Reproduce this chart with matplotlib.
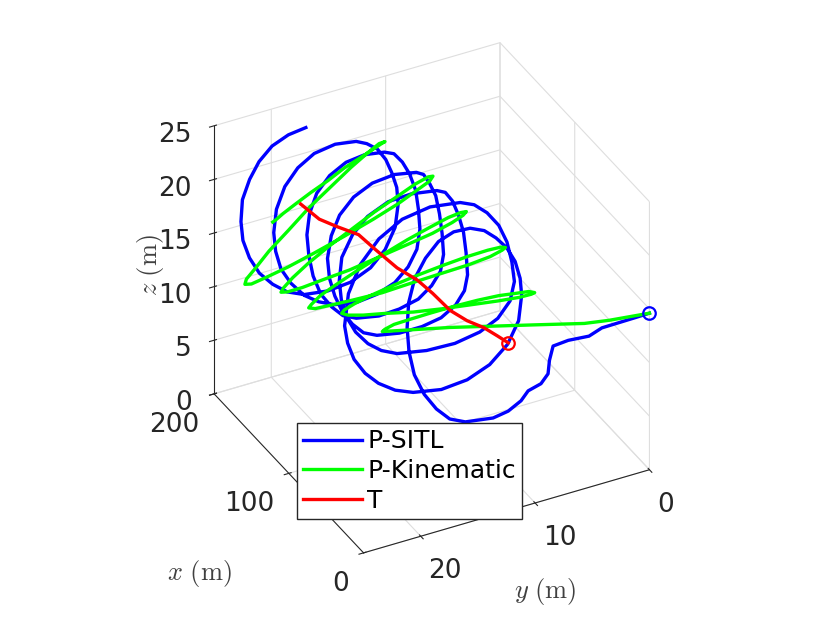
import matplotlib
matplotlib.use('Agg')
import matplotlib.pyplot as plt

plt.rcParams['mathtext.fontset'] = 'cm'
plt.rcParams['font.family'] = 'DejaVu Sans'
plt.rcParams['grid.color'] = '#dedede'
plt.rcParams['grid.linewidth'] = 0.8

# target T
t_x = [0.7, 10.6, 22.7, 34.3, 49.3, 71.2, 88.9, 106.7, 130.5, 150.5, 165.2, 177.1, 197.3]
t_y = [12.3, 12.6, 13.0, 13.7, 14.2, 14.3, 14.5, 15.1, 15.4, 15.6, 16.6, 17.3, 17.6]
t_z = [15.6] * 13

# P-SITL
sitl_x = [0.0, 1.8, 3.7, 5.5, 7.4, 9.2, 11.1, 12.9, 14.8, 16.6, 18.5, 20.3, 22.2, 24.0, 26,
          27, 28, 29, 30, 31, 32, 33, 34, 35, 36, 37, 38, 39, 40, 41, 42, 43, 44,
          45, 46, 47, 48, 49, 50, 51, 52, 53, 54, 55, 56, 57, 58, 59, 60, 61, 62,
          63.2, 64.3, 65.5, 66.7, 67.8, 69.0, 70.2, 71.3, 72.5, 73.7, 74.8, 76.0,
          77.2, 78.3, 79.5, 80.7, 81.8, 83.0, 84.2, 85.3, 86.5, 87.7, 88.8, 90.0,
          91.1, 92.2, 93.2, 94.3, 95.4, 96.5, 97.6, 98.7, 99.8, 100.8, 101.9, 103.0,
          104.1, 105.2, 106.2, 107.3, 108.4, 109.5, 110.6, 111.7, 112.8, 113.8, 114.9, 116.0,
          117.1, 118.2, 119.2, 120.3, 121.4, 122.5, 123.6, 124.7, 125.8, 126.8, 127.9, 129.0,
          130.1, 131.2, 132.2, 133.3, 134.4, 135.5, 136.6, 137.7, 138.8, 139.8, 140.9, 142.0,
          143, 144, 145, 146, 147, 148, 149, 150, 151, 152, 153, 154,
          155, 156, 157, 158, 159, 160, 161, 162, 163, 164, 165, 166,
          167.1, 168.2, 169.2, 170.3, 171.4, 172.5, 173.6, 174.7, 175.8, 176.8, 177.9, 179.0,
          180.1, 181.2, 182.2, 183.3, 184.4, 185.5, 186.6, 187.7, 188.8, 189.8, 190.9, 192.0]
sitl_y = [0.0, 1.1, 2.4, 3.8, 4.8, 6.5, 7.7, 7.9, 7.9, 8.4, 9.4, 9.9, 10.9, 12.1, 14.4, 15.7,
          16.8, 17.8, 18.6, 19.0, 19.1, 18.9, 18.3, 17.3, 16.1, 14.7, 13.2, 11.9, 10.8, 9.8,
          9.0, 8.5, 8.3, 8.5, 9.4, 10.9, 12.8, 15.0, 17.4, 18.9, 20.3, 21.4, 22.3, 22.8, 23.0,
          22.6, 21.5, 19.8, 17.7, 15.2, 12.5, 11.2, 10.0, 8.9, 8.1, 7.6, 7.3, 7.6, 8.6, 10.1,
          12.2, 14.6, 17.1, 18.4, 19.5, 20.5, 21.2, 21.6, 21.7, 21.4, 20.4, 19.0, 17.1, 15.0,
          12.7, 11.9, 11.2, 10.6, 10.1, 9.8, 9.6, 9.8, 10.5, 11.7, 13.3, 15.2, 17.1, 18.2,
          19.1, 19.9, 20.5, 20.9, 21.0, 20.6, 19.8, 18.5, 16.8, 14.8, 12.8, 12.1, 11.5, 10.9,
          10.5, 10.2, 10.0, 10.2, 10.9, 12.0, 13.6, 15.3, 17.2, 18.3, 19.2, 20.1, 20.7, 21.0,
          21.1, 20.8, 20.1, 18.9, 17.4, 15.7, 13.9, 13.0, 12.2, 11.5, 10.9, 10.6, 10.4, 10.6,
          11.3, 12.4, 13.9, 15.6, 17.5, 18.8, 20.0, 21.1, 21.9, 22.3, 22.4, 22.1, 21.3, 20.1,
          18.6, 16.7, 14.8, 13.8, 12.8, 12.0, 11.4, 10.9, 10.7, 10.9, 11.7, 12.9, 14.6, 16.5,
          18.5, 19.9, 21.1, 22.2, 23.0, 23.5, 23.6, 23.4, 22.7, 21.8, 20.6, 19.1, 17.5]
sitl_z = [14.6, 14.4, 14.2, 14.0, 13.4, 13.4, 13.1, 11.7, 10.3, 9.4, 8.9, 8.0, 7.2, 6.8, 7.0,
          7.6, 8.8, 10.4, 12.4, 14.6, 16.8, 19.0, 21.0, 22.5, 23.6, 24.0, 23.8, 23.1, 22.0,
          20.7, 19.1, 17.3, 15.6, 13.2, 11.2, 9.7, 8.8, 8.5, 8.9, 9.5, 10.5, 11.7, 13.2, 14.8,
          16.4, 19.2, 21.5, 23.3, 24.4, 24.7, 24.2, 23.5, 22.3, 20.7, 18.8, 16.7, 14.7, 12.9,
          11.5, 10.6, 10.1, 10.1, 10.5, 11.1, 12.0, 13.3, 14.8, 16.5, 18.2, 20.2, 21.9, 23.1,
          23.8, 23.8, 23.3, 22.8, 21.7, 20.1, 18.3, 16.2, 14.0, 12.5, 11.3, 10.4, 10.0, 9.9,
          10.2, 10.7, 11.7, 13.0, 14.6, 16.3, 18.1, 20.0, 21.6, 22.8, 23.5, 23.6, 23.1, 22.6,
          21.5, 20.1, 18.2, 16.2, 14.1, 12.5, 11.3, 10.3, 9.8, 9.6, 9.9, 10.4, 11.4, 12.8,
          14.6, 16.5, 18.4, 20.2, 21.8, 23.0, 23.7, 23.8, 23.4, 22.9, 21.8, 20.4, 18.6, 16.7,
          14.7, 12.8, 11.3, 10.1, 9.4, 9.1, 9.4, 10.0, 10.9, 12.3, 13.8, 15.5, 17.2, 19.2,
          21.0, 22.3, 23.1, 23.3, 22.9, 22.3, 21.4, 20.1, 18.6, 17.0, 15.3, 13.1, 11.2, 9.8,
          8.9, 8.6, 8.8, 9.4, 10.4, 11.7, 13.3, 15.0, 16.7, 18.6, 20.2, 21.5, 22.5, 23.0, 23.1]

# P-Kinematic
kin_x = [0.0, 4.5, 7.5, 13.0, 22.0, 30.0,
         32.6, 35.8, 39.4, 42.9, 46.0, 48.4, 50.0, 50.4, 49.7, 48.0,
         46.3, 45.6, 46.0, 47.6, 50.0, 53.1, 56.6, 60.2, 63.4, 66.0,
         68.6, 71.8, 75.4, 78.9, 82.0, 84.4, 86.0, 86.4, 85.7, 84.0,
         82.3, 81.5, 81.8, 83.2, 85.5, 88.5, 91.8, 95.3, 98.4, 101.0,
         103.6, 106.7, 110.2, 113.5, 116.5, 118.8, 120.2, 120.5, 119.7, 118.0,
         116.3, 115.5, 115.8, 117.2, 119.5, 122.5, 125.8, 129.3, 132.4, 135.0,
         137.6, 140.7, 144.2, 147.5, 150.5, 152.8, 154.2, 154.5, 153.7, 152.0,
         150.2, 149.4, 149.6, 150.9, 153.0, 155.8, 159.0, 162.4, 165.4, 168.0,
         170.6, 173.6, 177.0, 180.2, 183.0, 185.1, 186.4, 186.6, 185.8, 184.0,
         184.9, 186.2, 187.9, 189.7, 191.5, 193.1, 194.4, 195.1, 195.3, 195.0]
kin_y = [0.0, 3.2, 5.2, 9.2, 16.0, 21.4, 21.0, 20.0, 18.4, 16.4,
         14.2, 11.9, 9.9, 8.3, 7.3, 6.9, 7.3, 8.4, 10.2, 12.3,
         14.8, 17.2, 19.4, 21.1, 22.2, 22.6, 22.2, 21.1, 19.4, 17.2,
         14.8, 12.4, 10.3, 8.5, 7.4, 7.1, 7.5, 8.6, 10.4, 12.6,
         15.1, 17.6, 19.9, 21.7, 22.8, 23.2, 22.8, 21.8, 20.1, 18.1,
         15.7, 13.4, 11.4, 9.7, 8.7, 8.3, 8.7, 9.7, 11.4, 13.5,
         15.8, 18.2, 20.3, 21.9, 23.0, 23.4, 23.0, 22.0, 20.4, 18.4,
         16.2, 14.0, 11.9, 10.4, 9.3, 9.0, 9.4, 10.5, 12.2, 14.3,
         16.7, 19.1, 21.2, 22.9, 24.0, 24.4, 24.1, 23.1, 21.7, 19.8,
         17.8, 15.7, 13.9, 12.4, 11.5, 11.1, 11.4, 12.0, 13.0, 14.3,
         15.6, 17.0, 18.3, 19.3, 19.9, 20.2]
kin_z = [14.6, 14.6, 14.7, 15.4, 16.6, 17.3, 17.2, 17.1, 16.8, 16.5,
         16.2, 15.9, 15.6, 15.3, 15.2, 15.1, 15.2, 15.3, 15.5, 15.7,
         15.9, 16.1, 16.4, 16.5, 16.6, 16.7, 16.7, 16.7, 16.7, 16.7,
         16.7, 16.7, 16.7, 16.7, 16.7, 16.7, 16.7, 16.5, 16.3, 16.1,
         15.8, 15.4, 15.2, 15.0, 14.8, 14.8, 14.8, 15.1, 15.4, 15.8,
         16.3, 16.8, 17.2, 17.6, 17.8, 17.9, 17.8, 17.5, 17.0, 16.5,
         15.9, 15.2, 14.7, 14.2, 13.9, 13.8, 13.9, 14.3, 14.9, 15.6,
         16.3, 17.1, 17.8, 18.4, 18.8, 18.9, 18.7, 18.3, 17.5, 16.6,
         15.6, 14.6, 13.7, 13.0, 12.5, 12.4, 12.6, 13.1, 14.0, 15.1,
         16.4, 17.6, 18.7, 19.6, 20.2, 20.4, 20.2, 19.8, 19.2, 18.5,
         17.6, 16.8, 16.0, 15.4, 15.0, 14.9]

fig = plt.figure(figsize=(8.3, 6.23), dpi=100)
ax = fig.add_axes([0.149, 0.0275, 0.7229, 0.9631], projection='3d', proj_type='ortho')
ax.view_init(elev=33.8, azim=152.4)
ax.set_box_aspect((1, 1, 1), zoom=0.904)
ax.computed_zorder = False

h1, = ax.plot(sitl_x, sitl_y, sitl_z, color='#0000ff', lw=2.4, zorder=1, label='P-SITL')
h2, = ax.plot(kin_x, kin_y, kin_z, color='#00ff00', lw=2.4, zorder=2, label='P-Kinematic')
h3, = ax.plot(t_x, t_y, t_z, color='#ff0000', lw=2.4, zorder=3, label='T')
# start markers
ax.plot(sitl_x[:1], sitl_y[:1], sitl_z[:1], 'o', mfc='none', mec='#0000ff', ms=9, mew=1.6, zorder=4)
ax.plot(t_x[:1], t_y[:1], t_z[:1], 'o', mfc='none', mec='#ff0000', ms=9, mew=1.6, zorder=4)

ax.set_xlim(0, 200)
ax.set_ylim(0, 25)
ax.set_zlim(0, 25)
ax.set_xticks([0, 100, 200], labels=['0', '100', '200'], ha='right')
ax.set_yticks([0, 10, 20], labels=['0', '10', '20'], ha='left')
ax.set_zticks([0, 5, 10, 15, 20, 25], labels=['0', '5', '10', '15', '20', '25'], ha='right')
ax.zaxis.set_ticks_position('upper')
ax.zaxis.set_label_position('upper')
ax.tick_params(labelsize=19, colors='#262626')
for a in (ax.xaxis, ax.yaxis, ax.zaxis):
    a.set_pane_color((1, 1, 1, 0))
    a.pane.set_edgecolor('#dcdcdc')
    a.line.set_color('#262626')
    a.line.set_linewidth(0.8)

fig.text(0.24, 0.08, r'$x\ \mathrm{(m)}$', fontsize=19, color='#404040', ha='center', va='center')
fig.text(0.657, 0.051, r'$y\ \mathrm{(m)}$', fontsize=19, color='#404040', ha='center', va='center')
fig.text(0.181, 0.575, r'$z\ \mathrm{(m)}$', fontsize=19, color='#404040', ha='center', va='center',
         rotation=90)

fig.legend(handles=[h1, h2, h3], loc='upper left', bbox_to_anchor=(0.358, 0.321),
           fontsize=18, fancybox=False, edgecolor='#262626', framealpha=1, borderpad=0.25,
           labelspacing=0.23, handlelength=2.36, handletextpad=0.2, borderaxespad=0)

fig.savefig('out.png', dpi=100)
